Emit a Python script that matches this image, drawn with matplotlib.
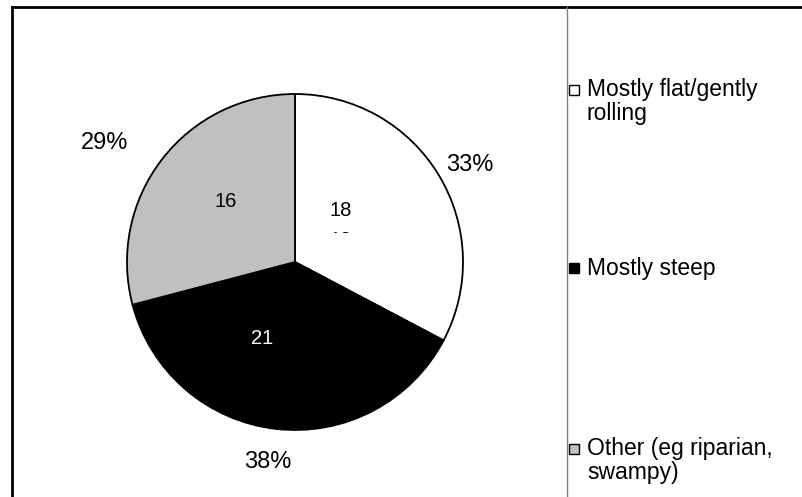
import numpy as np
import matplotlib.pyplot as plt
from matplotlib.patches import Rectangle

plt.rcParams['font.family'] = ['Liberation Sans', 'DejaVu Sans']

# Data
categories = ['Mostly flat/gently\nrolling', 'Mostly steep', 'Other (eg riparian,\nswampy)']
values = [18, 21, 16]
colors = ['#ffffff', '#000000', '#c0c0c0']
value_colors = ['black', 'white', 'black']
pct_labels = [str(int(round(v * 100.0 / sum(values)))) + '%' for v in values]

W, H = 802, 497
fig = plt.figure(figsize=(W / 100, H / 100), dpi=100)

# Background axes in pixel coords for frame, separator and legend
bg = fig.add_axes([0, 0, 1, 1])
bg.set_xlim(0, W)
bg.set_ylim(H, 0)
bg.axis('off')
bg.plot([12, W], [7, 7], color='black', lw=2)
bg.plot([12, 12], [7, H], color='black', lw=2)
bg.plot([567, 567], [7, H], color='#808080', lw=1)

# Pie axes
cx, cy, R = 295, 262, 168
half = R * 1.35
pie_ax = fig.add_axes([(cx - half) / W, (H - cy - half) / H, 2 * half / W, 2 * half / H])
wedges, _ = pie_ax.pie(values, colors=colors, startangle=90, counterclock=False,
                       radius=1, wedgeprops=dict(edgecolor='black', linewidth=1.3))
pie_ax.set_xlim(-1.35, 1.35)
pie_ax.set_ylim(-1.35, 1.35)
pie_ax.set_aspect('equal')
pie_ax.axis('off')

# value labels (pixel offsets from centre)
val_pos = [(46, 54), (-33, -75), (-69, 63)]
for v, (dx, dy), c in zip(values, val_pos, value_colors):
    pie_ax.text(dx / R, dy / R, str(v), ha='center', va='center_baseline', fontsize=14.5, color=c)

# the cut-off duplicate of the first value label
clip = Rectangle((-1.35, 29 / R), 2.7, 2, transform=pie_ax.transData, visible=False)
pie_ax.add_patch(clip)
t = pie_ax.text(val_pos[0][0] / R, (val_pos[0][1] - 30) / R, str(values[0]),
                ha='center', va='center_baseline', fontsize=14.5, color='black', clip_on=True)
t.set_clip_path(clip)

pct_pos = [(175, 100), (-27, -197), (-190, 122)]
for p, (dx, dy) in zip(pct_labels, pct_pos):
    pie_ax.text(dx / R, dy / R, p, ha='center', va='center_baseline', fontsize=17)

# Legend: square sits on the first line of each entry
leg_y = [90, 268, 449]
line_gap = 21
for w, lab, y in zip(wedges, categories, leg_y):
    bg.add_patch(Rectangle((569, y - 5), 10, 10, facecolor=w.get_facecolor(),
                           edgecolor='black', lw=1))
    nlines = lab.count('\n') + 1
    bg.text(587, y + (nlines - 1) * line_gap / 2 + 1, lab, ha='left', va='center',
            fontsize=16.5, linespacing=1.05)

fig.savefig('out.png', dpi=100)
